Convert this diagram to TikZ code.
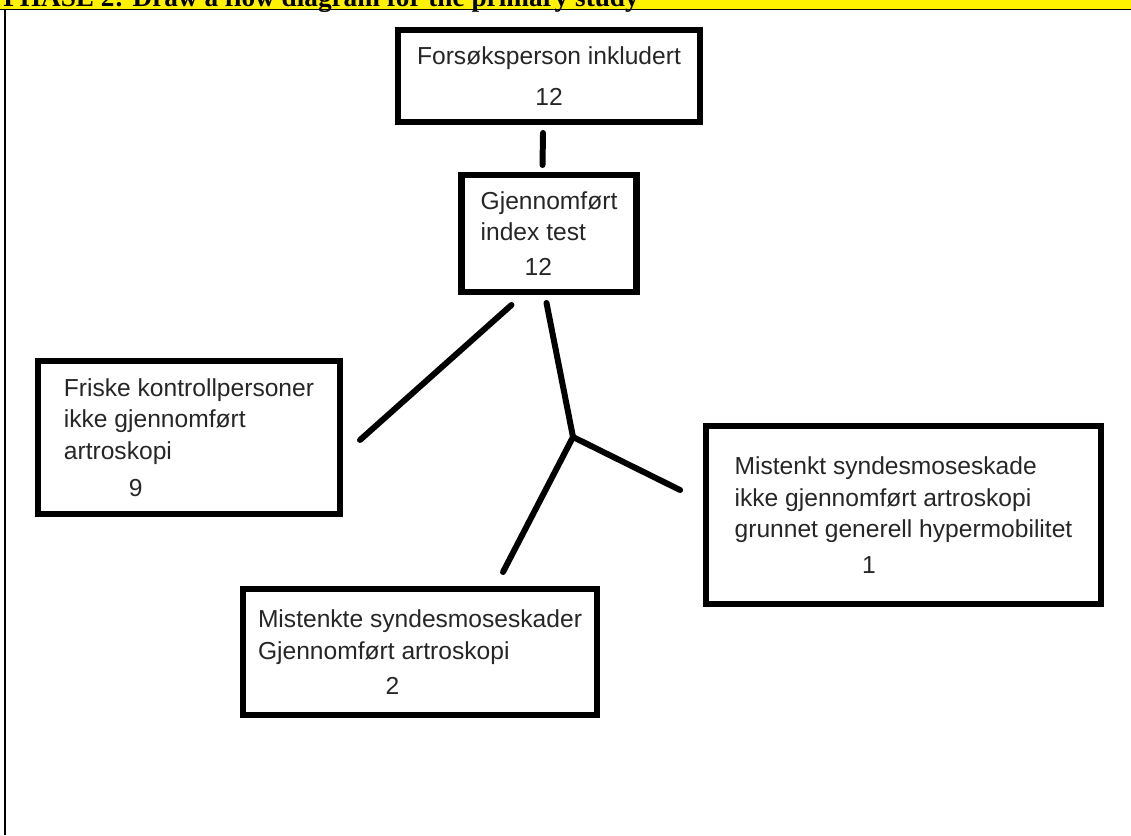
\documentclass[tikz,border=0pt]{standalone}
\usepackage{fontspec}
\setmainfont{Liberation Sans}
\newfontfamily\headfont{Liberation Serif}
\usetikzlibrary{positioning}

\begin{document}
\begin{tikzpicture}[
  x=0.02cm, y=-0.02cm,
  node distance=1.06cm,
  box/.style={draw, line width=3.7pt, inner sep=0pt, outer sep=0pt, align=left, text=black!85, font=\fontsize{14}{18}\selectfont},
  link/.style={line width=3.4pt, line cap=round}
]
\useasboundingbox (0,0) rectangle (1131,835);
% header band
\begin{scope}
  \clip (0,0) rectangle (1131,835);
  \fill[yellow] (0,0) rectangle (1131,9.5);
  \node[anchor=base west, inner sep=0pt, font=\headfont\bfseries\fontsize{15.5}{18}\selectfont] (head) at (3,7) {PHASE 2: Draw a flow diagram for the primary study};
\end{scope}
\draw[line width=0.8pt] (0,9.5) -- (1131,9.5);
\draw[line width=1.1pt] (5,9.5) -- (5,835);

\node[box, align=center, minimum width=6.04cm, minimum height=1.84cm] (incl) at (549,76) {Forsøksperson inkludert\\[5pt]12};
\node[box, minimum width=3.5cm, minimum height=2.34cm, below=of incl] (test) {Gjennomført\\index test\\[2pt]\hspace*{25pt}12};
\node[box, minimum width=6.04cm, minimum height=3.06cm] (ctrl) at (189,437.5) {Friske kontrollpersoner\\ikke gjennomført\\artroskopi\\[3pt]\hspace*{37pt}9};
\node[box, minimum width=7.9cm, minimum height=3.56cm] (susp) at (903.5,515) {Mistenkt syndesmoseskade\\ikke gjennomført artroskopi\\grunnet generell hypermobilitet\\[2pt]\hspace*{72.6pt}1};
\node[box, minimum width=7.08cm, minimum height=2.52cm] (scope) at (420,652) {Mistenkte syndesmoseskader\\Gjennomført artroskopi\\[2pt]\hspace*{72.6pt}2};

\coordinate (split) at (573,437);
\draw[link] ([shift={(-6,11)}]incl.south) -- ([shift={(-6.5,-10)}]test.north);
\draw[link] ([shift={(-37.5,13)}]test.south) -- ([shift={(20,2.5)}]ctrl.east);
\draw[link] ([shift={(-2.5,11)}]test.south) -- (split);
\draw[link] (split) -- ([shift={(-26,-25)}]susp.west);
\draw[link] (split) -- ([shift={(83,-17)}]scope.north);
\end{tikzpicture}
\end{document}
